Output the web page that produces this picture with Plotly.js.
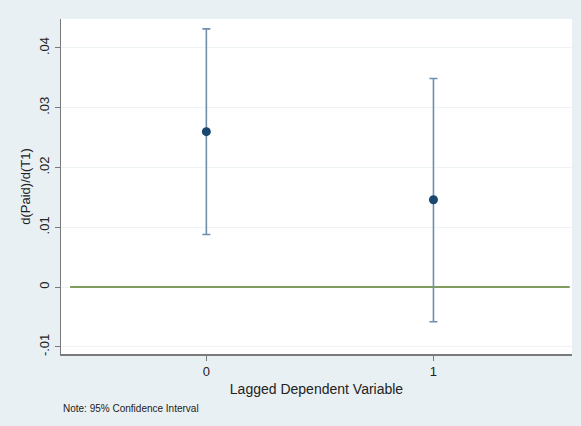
<!DOCTYPE html>
<html>
<head>
<meta charset="utf-8">
<script src="https://cdn.plot.ly/plotly-3.0.1.min.js"></script>
<style>html,body{margin:0;padding:0;background:#e9f0f3;}#chart{width:581px;height:426px;}</style>
</head>
<body>
<div id="chart"></div>
<script>
// Data
var lagValues = [0, 1];
var estimates = [0.0260, 0.0146];
var upperCI = [0.0432, 0.0349];
var lowerCI = [0.0088, -0.0058];
var yTickVals = [-0.01, 0, 0.01, 0.02, 0.03, 0.04];
var yTickText = ['-.01', '0', '.01', '.02', '.03', '.04'];
var xTickVals = [0, 1];
var xTickText = ['0', '1'];
var refLineX = [-0.6, 1.6];
var refLineY = [0, 0];

var errPlus = estimates.map(function (v, i) { return upperCI[i] - v; });
var errMinus = estimates.map(function (v, i) { return v - lowerCI[i]; });

var font = 'Liberation Sans, Arial, sans-serif';

var traces = [
  {
    x: refLineX, y: refLineY, mode: 'lines', type: 'scatter',
    line: {color: '#7f9c5e', width: 2}, hoverinfo: 'skip', showlegend: false
  },
  {
    x: lagValues, y: estimates, mode: 'markers', type: 'scatter',
    marker: {color: '#1a476f', size: 9},
    error_y: {type: 'data', symmetric: false, array: errPlus, arrayminus: errMinus,
              color: '#6f8fab', thickness: 1.6, width: 4},
    showlegend: false
  }
];

var layout = {
  width: 581, height: 426,
  margin: {l: 61, r: 9, t: 19, b: 72},
  paper_bgcolor: '#e9f0f3',
  plot_bgcolor: '#ffffff',
  font: {family: font, color: '#222222', size: 13},
  showlegend: false,
  xaxis: {
    range: [-0.64, 1.61],
    tickvals: xTickVals, ticktext: xTickText,
    ticks: 'outside', ticklen: 5, tickcolor: '#7a7a7a', tickwidth: 1,
    showgrid: false, zeroline: false,
    showline: true, linecolor: '#7a7a7a', linewidth: 1.5,
    tickfont: {size: 13, family: font},
    title: {text: 'Lagged Dependent Variable', font: {size: 14, family: font}, standoff: 6}
  },
  yaxis: {
    range: [-0.0112, 0.04485],
    tickvals: yTickVals, ticktext: yTickText,
    tickangle: -90,
    ticks: 'outside', ticklen: 5, tickcolor: '#7a7a7a', tickwidth: 1,
    showgrid: true, gridcolor: '#eef3f5', gridwidth: 1,
    zeroline: false,
    showline: true, linecolor: '#7a7a7a', linewidth: 1.5,
    tickfont: {size: 13, family: font},
    title: {text: 'd(Paid)/d(T1)', font: {size: 13, family: font}, standoff: 3}
  },
  annotations: [
    {
      text: 'Note: 95% Confidence Interval', xref: 'paper', yref: 'paper',
      x: 0.0, y: -0.14, xanchor: 'left', yanchor: 'top', showarrow: false,
      font: {size: 10, family: font, color: '#222222'}
    }
  ]
};

Plotly.newPlot('chart', traces, layout, {displayModeBar: false, staticPlot: true});
</script>
</body>
</html>
